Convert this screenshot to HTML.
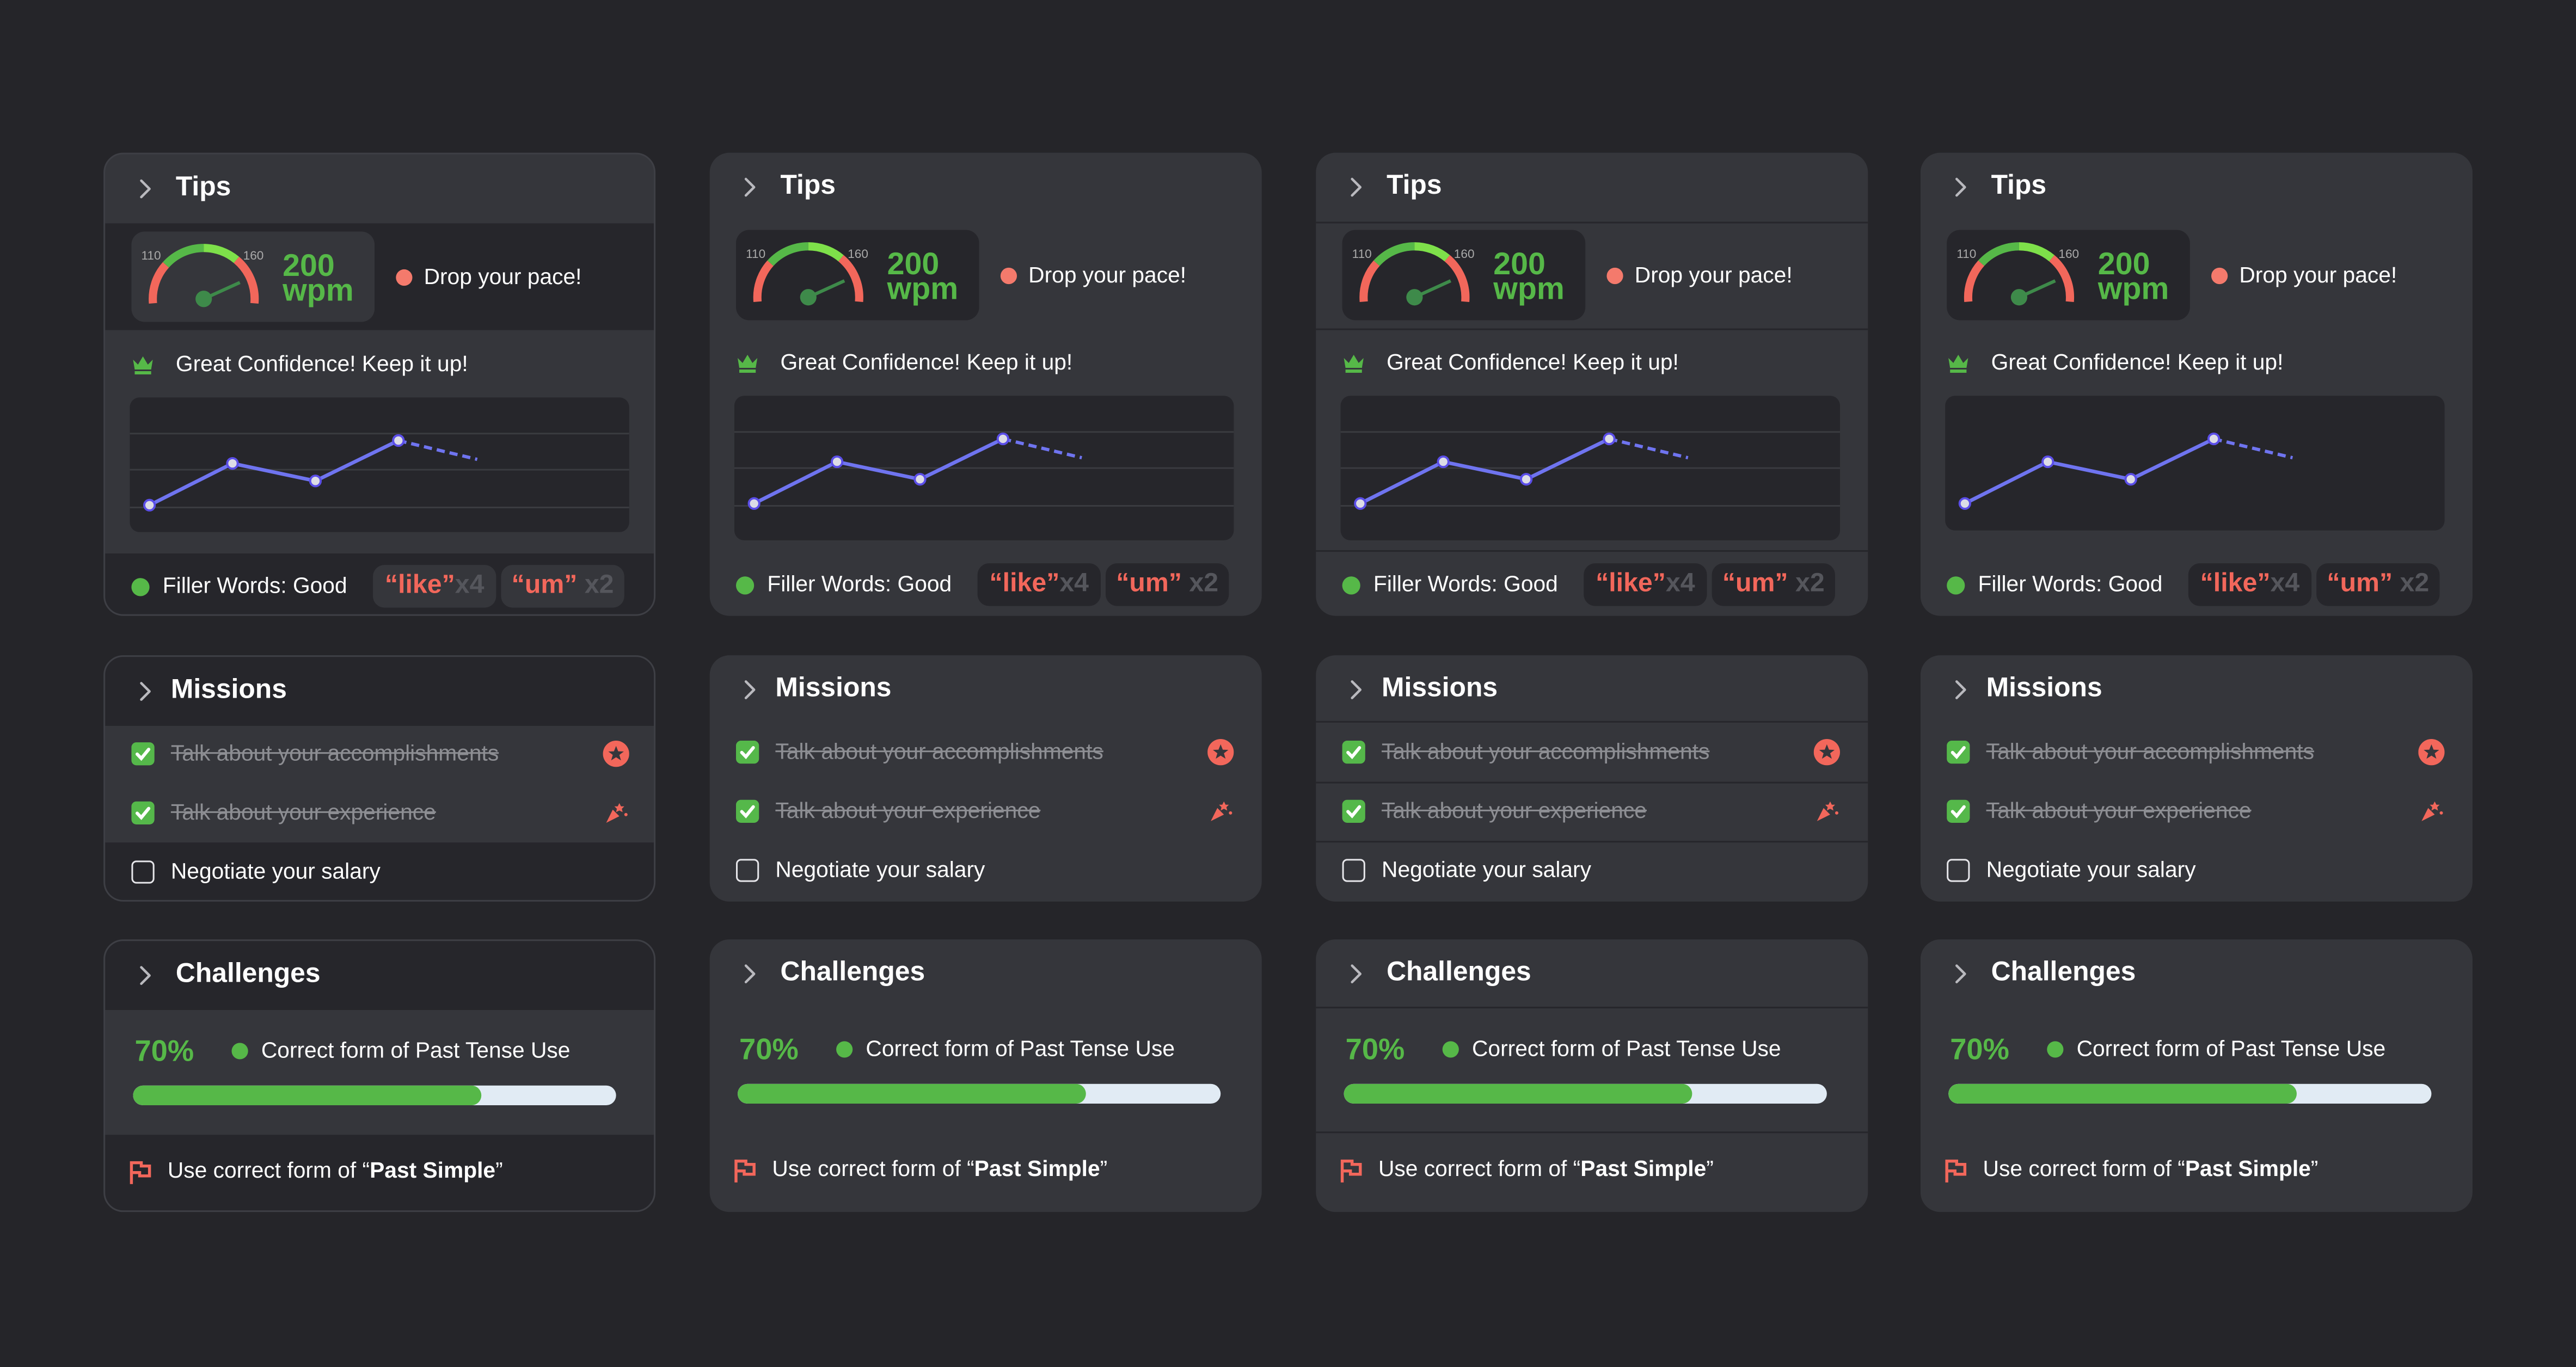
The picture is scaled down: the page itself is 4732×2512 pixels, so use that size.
<!DOCTYPE html>
<html><head><meta charset="utf-8">
<style>
html,body{margin:0;padding:0;background:#252529;}
body{width:4732px;height:2512px;overflow:hidden;font-family:"Liberation Sans",sans-serif;}
#stage{position:absolute;left:0;top:0;width:1568px;height:832px;transform:scale(3.01786);transform-origin:0 0;}
.card{position:absolute;width:336px;background:#35363b;border-radius:12px;overflow:hidden;box-sizing:border-box;}
.c0{border:1px solid #3e3f45;}
.abs{position:absolute;}
.hdr{color:#fff;font-size:16.5px;font-weight:bold;}
.chev{width:10px;height:14px;}
.t{color:#fff;font-size:13.5px;white-space:nowrap;}
.band{position:absolute;left:0;width:100%;background:#26262b;}
.sep{position:absolute;left:0;width:100%;height:1px;background:#26262b;}
.chip{position:absolute;height:26px;background:#2b2b30;border-radius:7px;font-size:16px;font-weight:bold;line-height:26px;text-align:center;white-space:nowrap;}
.chip .q{color:#f2675b;} .chip .n{color:#55565c;}
.cb{position:absolute;width:14px;height:14px;border-radius:3px;}
.cb.on{background:#55b84a;}
.cb.off{border:1.3px solid #e6e6ea;box-sizing:border-box;}
.strike{color:#8d8e93;text-decoration:line-through;font-size:13.5px;white-space:nowrap;}
</style></head>
<body>
<div id="stage"></div>
<script>
// Confidence chart data
const chartCategories = ["s1","s2","s3","s4"];
const chartValues = [20, 51, 38, 68];
const projectedValue = 54;
const gaugeLabels = ["110","160"];
const wpmValue = "200";
const challengePercent = 70;

const cols = [63, 432, 801, 1169];
const stage = document.getElementById('stage');

function xS(i){ return 12 + i*50.5; }
function yS(v){ return 82 - 0.82*v; }

function chartSvg(grid){
  let s = '<svg width="304" height="82" style="position:absolute;left:0;top:0">';
  if(grid){ [22,44,67].forEach(g=>{ s+='<line x1="0" x2="304" y1="'+g+'" y2="'+g+'" stroke="#3a3b40" stroke-width="1"/>'; }); }
  let pts = chartValues.map((v,i)=>xS(i)+','+yS(v)).join(' ');
  s += '<polyline points="'+pts+'" fill="none" stroke="#6f74f0" stroke-width="2.2"/>';
  const li = chartValues.length-1;
  s += '<line x1="'+xS(li)+'" y1="'+yS(chartValues[li])+'" x2="'+xS(li+0.95)+'" y2="'+yS(projectedValue)+'" stroke="#6f74f0" stroke-width="2" stroke-dasharray="5,3"/>';
  chartValues.forEach((v,i)=>{ s+='<circle cx="'+xS(i)+'" cy="'+yS(v)+'" r="3.2" fill="#dcdce6" stroke="#5b4ee8" stroke-width="1.3"/>'; });
  return s+'</svg>';
}

function gaugeSvg(){
  const cx=44, cy=41, r=31;
  function pt(a){ const rad=a*Math.PI/180; return [cx+r*Math.cos(rad), cy-r*Math.sin(rad)]; }
  function arc(a1,a2,col){ const p1=pt(a1),p2=pt(a2); return '<path d="M'+p1[0]+' '+p1[1]+' A'+r+' '+r+' 0 0 1 '+p2[0]+' '+p2[1]+'" fill="none" stroke="'+col+'" stroke-width="5" stroke-linecap="butt"/>'; }
  let s='<svg width="90" height="55" style="position:absolute;left:0;top:0">';
  s+=arc(185,138,'#f2675b')+arc(138,90,'#56b848')+arc(90,50,'#7ee04a')+arc(50,-5,'#f2675b');
  s+='<line x1="'+cx+'" y1="'+cy+'" x2="66" y2="31" stroke="#3e8a4a" stroke-width="2"/><circle cx="'+cx+'" cy="'+cy+'" r="5" fill="#3e8a4a"/>';
  s+='<text x="6" y="17" font-size="7.5" fill="#aaa" font-family="Liberation Sans">'+gaugeLabels[0]+'</text><text x="68" y="17" font-size="7.5" fill="#aaa" font-family="Liberation Sans">'+gaugeLabels[1]+'</text>';
  return s+'</svg>';
}

const chevSvg='<svg class="chev" viewBox="0 0 10 14"><path d="M3 2 L8 7 L3 12" fill="none" stroke="#b9b9be" stroke-width="1.5" stroke-linecap="round" stroke-linejoin="round"/></svg>';
const crown='<svg width="14" height="12" viewBox="0 0 14 12"><path d="M1 3 L4 6 L7 1 L10 6 L13 3 L12 9 L2 9 Z" fill="#56b848"/><rect x="2" y="10" width="10" height="2" fill="#56b848"/></svg>';
const check='<svg width="14" height="14"><path d="M3.5 7.2 L6 9.8 L10.5 4.3" fill="none" stroke="#fff" stroke-width="2" stroke-linecap="round"/></svg>';
const star='<svg width="16" height="16"><circle cx="8" cy="8" r="8" fill="#f2675b"/><path d="M8 3.2 L9.3 6.5 L12.7 6.6 L10 8.7 L11 12 L8 10.1 L5 12 L6 8.7 L3.3 6.6 L6.7 6.5Z" fill="#35363b"/></svg>';
const party='<svg width="16" height="16"><path d="M2 14 L6 6 L10 10 Z" fill="#f2675b"/><path d="M10 2 l1 2 2 0 -1.5 1.5 .5 2 -2 -1 -2 1 .5 -2 -1.5 -1.5 2 0z" fill="#f2675b"/><circle cx="14" cy="9" r="1" fill="#f2675b"/></svg>';
const flag='<svg width="15" height="16"><path d="M2 15 V2 H8 V4 H13 V10 H7 V8 H2" fill="none" stroke="#f2675b" stroke-width="1.8"/></svg>';

cols.forEach((L,ci)=>{
  const v1 = ci===0, v3 = ci===2, v4 = ci===3;
  let h='';
  if(v1){ h+='<div class="band" style="top:42px;height:65px"></div><div class="band" style="top:243px;height:50px"></div>'; }
  if(v3){ h+='<div class="sep" style="top:42px"></div><div class="sep" style="top:107px"></div><div class="sep" style="top:242px"></div>'; }
  h+='<div class="abs" style="left:19px;top:14px">'+chevSvg+'</div>';
  h+='<div class="abs hdr" style="left:43px;top:11px">Tips</div>';
  h+='<div class="abs" style="left:16px;top:47px;width:148px;height:55px;border-radius:8px;background:'+(v1?'#35363b':'#26262b')+'">'+gaugeSvg()+
     '<div class="abs" style="left:92px;top:14px;color:#56b848;font-weight:bold;font-size:19px;line-height:15px">'+wpmValue+'<br>wpm</div></div>';
  h+='<div class="abs" style="left:177px;top:70px;width:10px;height:10px;border-radius:50%;background:#f47a6c"></div>';
  h+='<div class="abs t" style="left:194px;top:67px">Drop your pace!</div>';
  h+='<div class="abs" style="left:16px;top:121px">'+crown+'</div>';
  h+='<div class="abs t" style="left:43px;top:120px">Great Confidence! Keep it up!</div>';
  h+='<div class="abs" style="left:15px;top:148px;width:304px;height:'+(v1||v4?82:88)+'px;border-radius:6px;background:#26262b;overflow:hidden">'+chartSvg(!v4)+'</div>';
  h+='<div class="abs" style="left:16px;top:258px;width:11px;height:11px;border-radius:50%;background:#56b848"></div>';
  h+='<div class="abs t" style="left:35px;top:255px">Filler Words: Good</div>';
  h+='<div class="chip" style="left:163px;top:250px;width:75px;background:'+(v1?'#35363b':'#26262b')+'"><span class="q">“like”</span><span class="n">x4</span></div>';
  h+='<div class="chip" style="left:241px;top:250px;width:75px;background:'+(v1?'#35363b':'#26262b')+'"><span class="q">“um”</span><span class="n"> x2</span></div>';
  const tips=document.createElement('div');
  tips.className='card'+(v1?' c0':'');
  tips.style.cssText='left:'+L+'px;top:93px;height:282px';
  
  
  tips.innerHTML=h; stage.appendChild(tips);

  h='';
  if(v1){ h+='<div class="band" style="top:0;height:42px"></div><div class="band" style="top:113px;height:40px"></div>'; }
  if(v3){ h+='<div class="sep" style="top:40px"></div><div class="sep" style="top:77px"></div><div class="sep" style="top:113px"></div>'; }
  h+='<div class="abs" style="left:19px;top:14px">'+chevSvg+'</div>';
  h+='<div class="abs hdr" style="left:40px;top:11px">Missions</div>';
  const rows=[['Talk about your accomplishments',star,true],['Talk about your experience',party,true],['Negotiate your salary','',false]];
  rows.forEach((r,ri)=>{
    const y=52+ri*36;
    h+='<div class="cb '+(r[2]?'on':'off')+'" style="left:16px;top:'+y+'px">'+(r[2]?check:'')+'</div>';
    h+='<div class="abs '+(r[2]?'strike':'t')+'" style="left:40px;top:'+(y-1)+'px">'+r[0]+'</div>';
    if(r[1]) h+='<div class="abs" style="left:303px;top:'+(y-1)+'px">'+r[1]+'</div>';
  });
  const mis=document.createElement('div');
  mis.className='card'+(v1?' c0':'');
  mis.style.cssText='left:'+L+'px;top:399px;height:150px';
  
  
  mis.innerHTML=h; stage.appendChild(mis);

  h='';
  if(v1){ h+='<div class="band" style="top:0;height:42px"></div><div class="band" style="top:118px;height:50px"></div>'; }
  if(v3){ h+='<div class="sep" style="top:41px"></div><div class="sep" style="top:117px"></div>'; }
  h+='<div class="abs" style="left:19px;top:14px">'+chevSvg+'</div>';
  h+='<div class="abs hdr" style="left:43px;top:11px">Challenges</div>';
  h+='<div class="abs" style="left:18px;top:57px;color:#56b848;font-weight:bold;font-size:18px">'+challengePercent+'%</div>';
  h+='<div class="abs" style="left:77px;top:62px;width:10px;height:10px;border-radius:50%;background:#56b848"></div>';
  h+='<div class="abs t" style="left:95px;top:59px">Correct form of Past Tense Use</div>';
  h+='<div class="abs" style="left:17px;top:88px;width:294px;height:12px;border-radius:6px;background:#e1ebf4;overflow:hidden"><div style="width:'+(challengePercent+2)+'%;height:100%;background:#56b848;border-radius:6px"></div></div>';
  h+='<div class="abs" style="left:14px;top:133px">'+flag+'</div>';
  h+='<div class="abs t" style="left:38px;top:132px">Use correct form of “<b>Past Simple</b>”</div>';
  const ch=document.createElement('div');
  ch.className='card'+(v1?' c0':'');
  ch.style.cssText='left:'+L+'px;top:572px;height:166px';
  
  
  ch.innerHTML=h; stage.appendChild(ch);
});
</script>
</body></html>
